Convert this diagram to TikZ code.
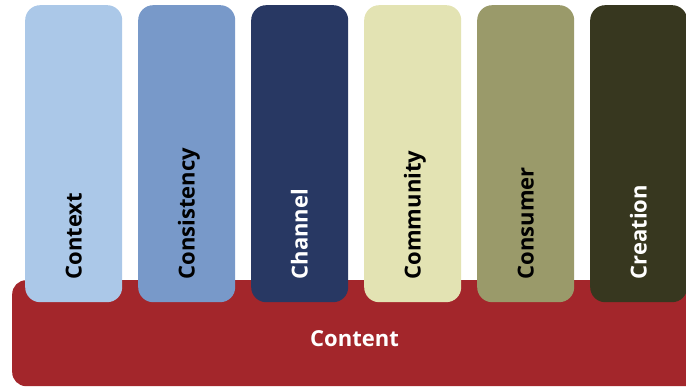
\documentclass[tikz,border=0pt]{standalone}
\usepackage{fontspec}
\setmainfont{Open Sans}
\begin{document}
\definecolor{cContext}{HTML}{ABC8E8}
\definecolor{cConsistency}{HTML}{7899C9}
\definecolor{cChannel}{HTML}{283863}
\definecolor{cCommunity}{HTML}{E3E3B3}
\definecolor{cConsumer}{HTML}{9A9A6A}
\definecolor{cCreation}{HTML}{37371F}
\definecolor{cContent}{HTML}{A3262B}
\begin{tikzpicture}[x=1pt,y=1pt,
  pillar/.style={rectangle, rounded corners=15pt, minimum width=97pt,
    minimum height=297pt, inner sep=0pt, anchor=north west},
  pillarlabel/.style={rotate=90, anchor=base west, inner sep=0pt,
    font=\bfseries\fontsize{22}{26}\selectfont},
  base/.style={rectangle, rounded corners=14pt, minimum width=720pt,
    minimum height=106pt, inner sep=0pt, anchor=north west}]
  \useasboundingbox (0,0) rectangle (686,387);
  \clip (0,0) rectangle (686,387);
  % foundation bar
  \node[base, fill=cContent] (content) at (12,107) {};
  \node[font=\bfseries\fontsize{22}{26}\selectfont, text=white, inner sep=0pt]
    (contentlabel) at (354.5,48) {Content};
  % six pillars standing on the foundation
  \foreach \i/\name/\col/\txt in {0/Context/cContext/black,
      1/Consistency/cConsistency/black,
      2/Channel/cChannel/white,
      3/Community/cCommunity/black,
      4/Consumer/cConsumer/black,
      5/Creation/cCreation/white}{
    \node[pillar, fill=\col] (p\i) at ({25+113*\i},382) {};
    \node[pillarlabel, text=\txt] (l\i) at ({25+113*\i+48.5+8},107.5) {\name};
  }
\end{tikzpicture}
\end{document}
